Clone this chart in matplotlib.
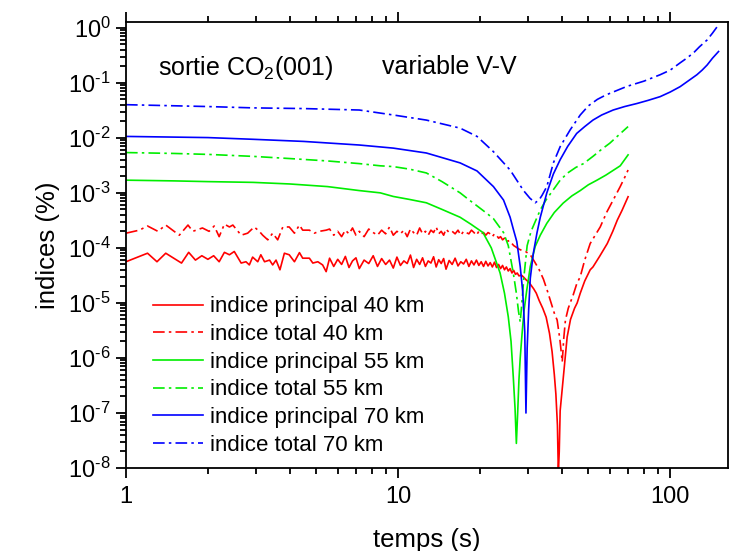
from __future__ import annotations

import matplotlib

matplotlib.use("Agg")  # non-GUI backend
import matplotlib.pyplot as plt
import numpy as np
from matplotlib.ticker import FuncFormatter, LogLocator, NullFormatter

plt.rcParams["font.family"] = ["Liberation Sans", "DejaVu Sans"]
plt.rcParams["mathtext.fontset"] = "custom"
plt.rcParams["mathtext.rm"] = "Liberation Sans"
plt.rcParams["mathtext.it"] = "Liberation Sans:italic"
plt.rcParams["axes.unicode_minus"] = False

# --- data (time in s, index in %) ---
# dense noisy stretch shared by the 40 km curves
t_noise = [5.6, 5.8, 6.0, 6.2, 6.4, 6.6, 6.8, 7.0, 7.2, 7.5, 7.8, 8.1, 8.4, 8.7,
           9.0, 9.3, 9.6, 9.9, 10.2, 10.5, 10.8, 11.1, 11.4, 11.7, 12.0, 12.3,
           12.6, 12.9, 13.2, 13.5, 13.8, 14.1, 14.4, 14.7, 15.0, 15.4, 15.8,
           16.2, 16.6, 17.0, 17.4, 17.8, 18.2, 18.6, 19.0, 19.4, 19.8, 20.2,
           20.6, 21.0, 21.4, 21.8, 22.2, 22.6, 23.0, 23.4, 23.8, 24.2, 24.6,
           25.0, 25.4, 25.8, 26.2, 26.6, 27.0, 27.4, 27.8]

# indice principal 40 km
t_p40 = ([1.0, 1.2, 1.3, 1.4, 1.6, 1.7, 1.8, 1.9, 2.0, 2.1, 2.2, 2.3, 2.4, 2.5,
          2.65, 2.76, 2.84, 2.92, 3.05, 3.13, 3.23, 3.37, 3.46, 3.56, 3.68,
          3.82, 3.98, 4.16, 4.34, 4.46, 4.72, 4.86, 5.07, 5.28, 5.44]
         + t_noise
         + [28.4, 29.0, 29.6, 30.2, 30.8, 31.5, 32.2, 33.0, 34.0, 35.0, 36.0,
            36.8, 37.5, 38.0, 38.5, 38.8, 39.1, 39.4, 40.4, 41.8, 43.0, 44.5,
            45.5, 46.7, 48.5, 50.8, 52.0, 55.0, 58.7, 61.5, 63.9, 66.5, 70.0])
y_p40 = ([5.6e-5, 8.0e-5, 5.6e-5, 8.0e-5, 5.3e-5, 8.3e-5, 6.0e-5, 7.2e-5, 6.2e-5,
          7.2e-5, 5.6e-5, 8.3e-5, 7.5e-5, 8.6e-5, 5.3e-5, 5.6e-5, 4.9e-5, 6.8e-5,
          5.6e-5, 7.5e-5, 5.6e-5, 6.0e-5, 4.9e-5, 6.0e-5, 4.0e-5, 8.0e-5, 7.5e-5,
          5.6e-5, 8.2e-5, 6.5e-5, 6.5e-5, 5.3e-5, 5.6e-5, 4.9e-5, 3.7e-5]
         + [6.5e-5, 4.6e-5, 6.2e-5, 5.0e-5, 7.0e-5, 4.4e-5, 5.8e-5, 6.6e-5, 4.2e-5,
            6.0e-5, 5.2e-5, 7.2e-5, 4.6e-5, 6.4e-5, 5.0e-5, 6.0e-5, 4.3e-5, 6.8e-5,
            4.8e-5, 5.8e-5, 5.2e-5, 7.4e-5, 4.4e-5, 6.2e-5, 5.0e-5, 6.6e-5, 4.6e-5,
            5.8e-5, 5.3e-5, 6.9e-5, 4.5e-5, 6.1e-5, 5.2e-5, 6.4e-5, 4.1e-5, 5.9e-5,
            5.0e-5, 6.5e-5, 4.7e-5, 5.6e-5, 5.1e-5, 6.2e-5, 4.6e-5, 5.8e-5, 4.9e-5,
            6.0e-5, 4.8e-5, 5.6e-5, 4.6e-5, 5.7e-5, 4.7e-5, 5.4e-5, 4.5e-5, 5.5e-5,
            4.4e-5, 5.0e-5, 4.2e-5, 4.8e-5, 4.0e-5, 4.5e-5, 3.8e-5, 4.2e-5, 3.5e-5,
            3.9e-5, 3.3e-5, 3.5e-5, 3.1e-5]
         + [3.2e-5, 2.9e-5, 2.6e-5, 2.4e-5, 2.1e-5, 1.8e-5, 1.5e-5, 1.1e-5, 8e-6,
            5.5e-6, 2.8e-6, 1.3e-6, 5e-7, 2.2e-7, 6e-8, 8e-9, 2e-8, 1.1e-7, 4e-7,
            2.4e-6, 5e-6, 8e-6, 1e-5, 1.5e-5, 2.5e-5, 4e-5, 4.5e-5, 7e-5, 1.2e-4,
            2e-4, 3.2e-4, 4.8e-4, 8.5e-4])

# indice total 40 km
t_t40 = ([1.0, 1.12, 1.2, 1.31, 1.4, 1.57, 1.69, 1.76, 1.91, 2.02, 2.11, 2.2,
          2.3, 2.4, 2.47, 2.65, 2.8, 2.96, 3.09, 3.18, 3.32, 3.46, 3.61, 3.77,
          3.98, 4.16, 4.34, 4.46, 4.72, 4.92, 5.14, 5.44]
         + t_noise
         + [28.5, 29.5, 30.6, 31.8, 33.0, 34.2, 35.3, 36.5, 37.5, 38.4, 39.3,
            40.1, 40.6, 41.2, 42.2, 43.2, 44.0, 45.3, 46.7, 48.5, 50.8, 53.0,
            55.3, 58.5, 61.7, 65.5, 68.0, 70.0])
y_t40 = ([1.85e-4, 2.1e-4, 2.5e-4, 2.0e-4, 2.6e-4, 1.7e-4, 2.6e-4, 2.0e-4, 2.3e-4,
          2.0e-4, 2.5e-4, 1.6e-4, 2.7e-4, 2.4e-4, 2.6e-4, 1.7e-4, 1.85e-4, 2.4e-4,
          2.0e-4, 1.7e-4, 1.4e-4, 1.85e-4, 1.4e-4, 2.4e-4, 2.4e-4, 1.85e-4, 2.6e-4,
          2.1e-4, 2.1e-4, 1.85e-4, 2.0e-4, 2.1e-4]
         + [2.2e-4, 1.7e-4, 2.0e-4, 1.6e-4, 2.1e-4, 1.8e-4, 2.3e-4, 1.7e-4, 2.0e-4,
            1.6e-4, 2.2e-4, 1.9e-4, 1.7e-4, 2.1e-4, 1.8e-4, 2.4e-4, 1.7e-4, 2.0e-4,
            1.8e-4, 2.1e-4, 1.6e-4, 2.2e-4, 1.9e-4, 1.7e-4, 2.3e-4, 1.8e-4, 2.0e-4,
            1.7e-4, 2.1e-4, 1.9e-4, 2.4e-4, 1.8e-4, 2.0e-4, 1.7e-4, 2.2e-4, 1.9e-4,
            2.0e-4, 1.8e-4, 2.1e-4, 1.7e-4, 2.0e-4, 1.9e-4, 1.8e-4, 2.1e-4, 1.9e-4,
            1.7e-4, 2.0e-4, 1.8e-4, 1.9e-4, 1.7e-4, 1.9e-4, 1.8e-4, 1.6e-4, 1.8e-4,
            1.7e-4, 1.5e-4, 1.6e-4, 1.4e-4, 1.5e-4, 1.3e-4, 1.35e-4, 1.2e-4, 1.2e-4,
            1.1e-4, 1.05e-4, 1.0e-4, 9.5e-5]
         + [9.0e-5, 8.5e-5, 7.5e-5, 5.5e-5, 4.0e-5, 2.7e-5, 1.7e-5, 1.0e-5, 6.5e-6,
            4.9e-6, 2.2e-6, 8.5e-7, 2.2e-6, 4.9e-6, 8e-6, 1.1e-5, 1.4e-5, 2.2e-5,
            3e-5, 6e-5, 1.2e-4, 1.7e-4, 2.4e-4, 4.5e-4, 7.4e-4, 1.3e-3, 1.9e-3,
            2.6e-3])

# indice principal 55 km
t_p55 = [1.0, 1.5, 2.0, 2.93, 4.0, 5.5, 7.2, 8.6, 9.6, 11.0, 12.7, 14.5, 16.9,
         18.5, 20.5, 22.0, 23.7, 24.6, 25.4, 26.0, 26.5, 26.9, 27.2, 27.5, 27.8,
         28.1, 28.5, 29.0, 29.7, 30.6, 31.9, 33.3, 35.2, 37.5, 40.4, 43.5, 46.7,
         50.0, 53.8, 58.0, 62.0, 65.5, 67.2, 70.0]
y_p55 = [1.7e-3, 1.65e-3, 1.6e-3, 1.55e-3, 1.45e-3, 1.3e-3, 1.1e-3, 1.0e-3,
         8.6e-4, 7.6e-4, 6.6e-4, 5.0e-4, 3.6e-4, 2.7e-4, 1.9e-4, 1.0e-4, 3.5e-5,
         1.5e-5, 5.6e-6, 2e-6, 4.5e-7, 1.2e-7, 2.8e-8, 1e-7, 4e-7, 1e-6, 2.5e-6,
         7e-6, 1.7e-5, 4.6e-5, 1.06e-4, 1.7e-4, 2.8e-4, 4.4e-4, 6.5e-4, 8.8e-4,
         1.1e-3, 1.4e-3, 1.7e-3, 2.1e-3, 2.6e-3, 3.1e-3, 3.7e-3, 4.9e-3]

# indice total 55 km
t_t55 = [1.0, 1.5, 2.0, 2.93, 4.0, 5.5, 7.2, 8.6, 9.6, 11.0, 12.7, 14.5, 16.9,
         18.2, 19.5, 20.5, 21.5, 22.4, 23.3, 24.4, 25.4, 26.5, 27.2, 27.7, 28.1,
         28.5, 29.0, 29.8, 30.8, 31.9, 33.3, 35.0, 37.0, 39.4, 42.0, 45.0, 48.0,
         52.0, 56.0, 60.0, 65.0, 70.0]
y_t55 = [5.4e-3, 5.2e-3, 5.0e-3, 4.6e-3, 4.2e-3, 3.8e-3, 3.4e-3, 3.1e-3, 3.0e-3,
         2.7e-3, 2.3e-3, 1.6e-3, 1.0e-3, 7.5e-4, 5.8e-4, 4.8e-4, 4.0e-4, 3.4e-4,
         2.6e-4, 1.9e-4, 1.1e-4, 3.5e-5, 1.5e-5, 7e-6, 4.5e-6, 1e-5, 3e-5, 1.1e-4,
         2e-4, 3e-4, 4.9e-4, 7.5e-4, 1.1e-3, 1.7e-3, 2.3e-3, 2.9e-3, 3.4e-3,
         4.6e-3, 6.2e-3, 8.0e-3, 1.15e-2, 1.6e-2]

# indice principal 70 km
t_p70 = [1.0, 2.0, 2.93, 4.5, 7.2, 9.6, 12.7, 16.9, 19.5, 22.4, 24.4, 25.8, 26.5,
         27.3, 28.1, 28.7, 29.2, 29.5, 29.8, 30.2, 30.6, 31.4, 32.4, 33.3, 35.2,
         37.2, 39.4, 42.0, 45.3, 48.5, 52.0, 56.0, 61.7, 68.0, 75.4, 83.0, 91.8,
         100.0, 108.7, 117.0, 125.3, 131.0, 136.6, 143.0, 150.5]
y_p70 = [1.06e-2, 1.01e-2, 9.4e-3, 8.6e-3, 7.4e-3, 6.5e-3, 5.3e-3, 3.5e-3, 2.5e-3,
         1.3e-3, 7.4e-4, 3.6e-4, 2.2e-4, 1.3e-4, 4.6e-5, 1.6e-5, 3e-6, 1e-7,
         1.5e-6, 8e-6, 2.8e-5, 8e-5, 1.9e-4, 3.6e-4, 1.0e-3, 2.2e-3, 4e-3, 7e-3,
         1.2e-2, 1.6e-2, 2.1e-2, 2.6e-2, 3.2e-2, 3.7e-2, 4.2e-2, 4.8e-2, 5.6e-2,
         6.8e-2, 8.5e-2, 0.11, 0.14, 0.17, 0.21, 0.28, 0.37]

# indice total 70 km
t_t70 = [1.0, 2.0, 2.93, 4.5, 7.2, 9.6, 12.7, 16.9, 19.5, 22.4, 25.8, 28.9, 30.5,
         31.9, 33.0, 33.8, 35.2, 37.2, 39.4, 42.9, 46.7, 50.0, 54.0, 58.0, 61.7,
         69.3, 80.0, 91.8, 100.0, 108.7, 115.0, 121.8, 128.0, 136.6, 143.0, 150.5]
y_t70 = [4.0e-2, 3.7e-2, 3.5e-2, 3.4e-2, 3.2e-2, 2.6e-2, 2.1e-2, 1.5e-2, 1.06e-2,
         5.6e-3, 2.6e-3, 1.1e-3, 8e-4, 6.6e-4, 7.5e-4, 9e-4, 1.3e-3, 3.5e-3,
         6.9e-3, 1.4e-2, 2.6e-2, 3.8e-2, 5.0e-2, 6.0e-2, 6.8e-2, 8.6e-2, 0.107,
         0.14, 0.17, 0.23, 0.28, 0.35, 0.45, 0.6, 0.8, 1.13]

labels = ["indice principal 40 km", "indice total 40 km",
          "indice principal 55 km", "indice total 55 km",
          "indice principal 70 km", "indice total 70 km"]

RED, GREEN, BLUE = "#ff0000", "#00ee00", "#0000ff"
DASHDOT = (0, (7, 2.5, 1.5, 2.5))


def _ytick(v, pos):
    # Origin-style "10^-n" with a short hyphen in the exponent
    e = int(round(np.log10(v)))
    return rf"10$^{{\text{{{e}}}}}$"


fig = plt.figure(figsize=(7.29, 5.51), dpi=100)
ax = fig.add_axes([0.1728, 0.1506, 0.8258, 0.8094])

series = [
    (t_p40, y_p40, RED, "-"),
    (t_t40, y_t40, RED, DASHDOT),
    (t_p55, y_p55, GREEN, "-"),
    (t_t55, y_t55, GREEN, DASHDOT),
    (t_p70, y_p70, BLUE, "-"),
    (t_t70, y_t70, BLUE, DASHDOT),
]
for (t, y, c, ls), lab in zip(series, labels):
    ax.plot(t, y, color=c, ls=ls, lw=1.2, label=lab)

ax.set_xscale("log")
ax.set_yscale("log")
ax.set_xlim(1, 163)
ax.set_ylim(1e-8, 1.27)

ax.yaxis.set_major_locator(LogLocator(base=10, numticks=20))
ax.yaxis.set_minor_locator(LogLocator(base=10, subs=range(2, 10), numticks=20))
ax.yaxis.set_major_formatter(FuncFormatter(_ytick))
ax.yaxis.set_minor_formatter(NullFormatter())
ax.xaxis.set_major_formatter(FuncFormatter(lambda v, pos: f"{v:g}"))
ax.xaxis.set_minor_formatter(NullFormatter())

ax.tick_params(which="both", direction="out", labelsize=17, width=1.3,
               top=True, right=False, pad=4)
ax.tick_params(which="major", length=7)
ax.tick_params(which="minor", length=4)
ax.tick_params(axis="x", which="major", pad=6)
for sp in ax.spines.values():
    sp.set_linewidth(1.3)

ax.set_xlabel("temps (s)", fontsize=18.5, labelpad=14)
ax.set_ylabel("indices (%)", fontsize=18.5, labelpad=6)

ax.text(0.054, 0.897, "sortie CO$_2$(001)", transform=ax.transAxes,
        fontsize=18, va="center")
ax.text(0.425, 0.899, "variable V-V", transform=ax.transAxes,
        fontsize=18, va="center")

ax.legend(loc="upper left", bbox_to_anchor=(0.045, 0.385), frameon=False,
          fontsize=16, handlelength=2.25, handletextpad=0.32, labelspacing=0.3,
          borderpad=0, borderaxespad=0)

fig.savefig("out.png", dpi=100)
plt.close(fig)
